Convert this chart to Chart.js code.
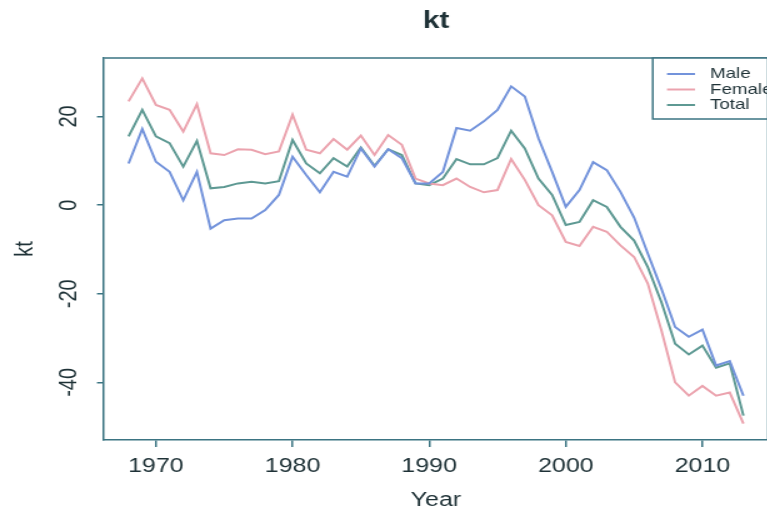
<!DOCTYPE html>
<html><head><meta charset="utf-8">
<script src="https://cdn.jsdelivr.net/npm/chart.js@4.4.1/dist/chart.umd.min.js"></script>
<style>
html,body{margin:0;padding:0;background:#fff;overflow:hidden;width:767px;height:517px}
#wrap{position:absolute;left:0;top:0;width:640px;height:517px;transform:scaleX(1.25);transform-origin:0 0}
</style></head><body>
<div id="wrap"><canvas id="c" width="640" height="517"></canvas></div>
<script>
const years = [1968,1969,1970,1971,1972,1973,1974,1975,1976,1977,1978,1979,1980,1981,1982,1983,1984,1985,1986,1987,1988,1989,1990,1991,1992,1993,1994,1995,1996,1997,1998,1999,2000,2001,2002,2003,2004,2005,2006,2007,2008,2009,2010,2011,2012,2013];
const male = [9.4,17.2,9.8,7.5,1.1,7.5,-5.3,-3.4,-3.0,-3.0,-1.1,2.3,10.9,6.8,2.9,7.5,6.4,12.8,8.7,12.6,10.6,4.9,4.9,7.5,17.4,16.8,18.9,21.5,26.8,24.5,15.1,7.5,-0.4,3.4,9.7,7.9,3.0,-2.8,-10.9,-18.9,-27.5,-29.7,-28.1,-36.2,-35.2,-43.0];
const female = [23.4,28.6,22.6,21.5,16.6,22.8,11.7,11.3,12.6,12.5,11.5,12.1,20.4,12.5,11.7,14.9,12.5,15.7,11.3,15.8,13.6,6.0,4.9,4.5,6.0,4.1,2.9,3.4,10.4,5.7,0.0,-2.3,-8.3,-9.2,-4.9,-6.0,-9.1,-11.7,-17.7,-28.3,-40.0,-43.0,-40.8,-43.0,-42.3,-49.3];
const total = [15.5,21.5,15.5,14.0,8.7,14.5,3.8,4.1,4.9,5.3,4.9,5.4,14.7,9.4,7.2,10.6,8.7,13.0,8.9,12.6,11.3,4.9,4.5,6.0,10.4,9.2,9.2,10.6,16.8,12.8,6.0,2.3,-4.5,-3.8,1.1,-0.4,-4.9,-8.0,-14.0,-21.9,-31.3,-33.7,-31.7,-36.7,-35.7,-47.5];
const seriesNames = ['Male','Female','Total'];
const xTicks = [1970,1980,1990,2000,2010];
const yTicks = [-40,-20,0,20];
const chartTitle = 'kt';
const xTitle = 'Year';
const yTitle = 'kt';

const FRAME = '#3b7482';
const TEXT = '#1f3237';
const COLORS = ['#7393db','#eba3ae','#5e9993'];
Chart.defaults.font.family = "'Liberation Sans', Arial, sans-serif";
Chart.defaults.color = TEXT;

const pts = arr => years.map((y,i)=>({x:y,y:arr[i]}));

const frame = {
  id:'frame',
  afterDraw(chart){
    const {ctx, chartArea:a} = chart;
    ctx.save();
    ctx.strokeStyle = FRAME; ctx.lineWidth = 1.5;
    ctx.beginPath(); ctx.moveTo(a.left,a.top); ctx.lineTo(a.right,a.top); ctx.lineTo(a.right,a.bottom); ctx.stroke();
    // legend box (R style, top right)
    const lx = 522.2, ly = a.top, lb = 119;
    ctx.fillStyle = '#fff';
    ctx.fillRect(lx, ly, a.right-lx, lb-ly);
    ctx.strokeRect(lx, ly, a.right-lx, lb-ly);
    const rows = [74, 89.5, 105];
    ctx.font = "15px 'Liberation Sans', Arial, sans-serif";
    ctx.textBaseline = 'middle'; ctx.textAlign = 'left';
    chart.data.datasets.forEach((ds,i)=>{
      ctx.strokeStyle = ds.borderColor; ctx.lineWidth = 2;
      ctx.beginPath(); ctx.moveTo(533.6, rows[i]); ctx.lineTo(556, rows[i]); ctx.stroke();
      ctx.fillStyle = TEXT;
      ctx.fillText(ds.label, 568, rows[i]);
    });
    ctx.restore();
  }
};

new Chart(document.getElementById('c'), {
  type:'line',
  data:{datasets:[
    {label:seriesNames[0], data:pts(male), borderColor:COLORS[0]},
    {label:seriesNames[1], data:pts(female), borderColor:COLORS[1]},
    {label:seriesNames[2], data:pts(total), borderColor:COLORS[2]}
  ]},
  options:{
    responsive:false, animation:false, devicePixelRatio:1,
    layout:{padding:{left:0,right:25.6,top:0,bottom:0}},
    elements:{point:{radius:0}, line:{borderWidth:2, tension:0}},
    plugins:{
      legend:{display:false}, tooltip:{enabled:false},
      title:{display:true, text:chartTitle, fullSize:false, color:TEXT,
        font:{size:24, weight:'bold'}, padding:{top:6.6,bottom:22.6}}
    },
    scales:{
      x:{type:'linear', min:1966.2, max:2014.8,
        afterBuildTicks(s){ s.ticks = xTicks.map(v=>({value:v})); },
        afterFit(s){ s.height = 77; },
        grid:{drawOnChartArea:false, drawTicks:true, tickLength:7, color:FRAME, lineWidth:1.5},
        border:{display:true, color:FRAME, width:1.5},
        ticks:{font:{size:20}, color:TEXT, padding:7, maxRotation:0, autoSkip:false, callback:v=>String(v)},
        title:{display:true, text:xTitle, font:{size:20}, color:TEXT, padding:{top:0,bottom:5}}
      },
      y:{type:'linear', min:-53, max:33.2,
        afterBuildTicks(s){ s.ticks = yTicks.map(v=>({value:v})); },
        afterFit(s){ s.width = 83.2; },
        grid:{drawOnChartArea:false, drawTicks:true, tickLength:5.6, color:FRAME, lineWidth:1.5},
        border:{display:true, color:FRAME, width:1.5},
        ticks:{font:{size:20}, color:TEXT, padding:7.2, minRotation:90, maxRotation:90, crossAlign:'center', autoSkip:false, callback:v=>String(v)},
        title:{display:true, text:yTitle, font:{size:20}, color:TEXT, padding:{top:8,bottom:0}}
      }
    }
  },
  plugins:[frame]
});
</script>
</body></html>
